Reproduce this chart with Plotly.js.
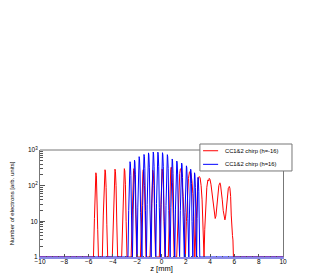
<!DOCTYPE html>
<html>
<head>
<meta charset="utf-8">
<script src="https://cdn.plot.ly/plotly-3.0.1.min.js"></script>
<style>
html,body{margin:0;padding:0;background:#fff;}
#chart{width:327px;height:273px;}
</style>
</head>
<body>
<div id="chart"></div>
<script>
// ---- data ----
const seriesNames = ["CC1&amp;2 chirp (h=-16)", "CC1&amp;2 chirp (h=16)"];
const seriesColors = ["#ff0000", "#0000ff"];

// red: CC1&2 chirp (h=-16)
const redZ = [
  -10, -5.62,
  -5.60, -5.52, -5.47, -5.43, -5.40, -5.36, -5.31, -5.25, -5.19,
  -4.87, -4.79, -4.73, -4.68, -4.65, -4.61, -4.56, -4.50, -4.43,
  -4.05, -3.97, -3.91, -3.86, -3.83, -3.79, -3.74, -3.68, -3.61,
  -3.28, -3.20, -3.14, -3.09, -3.06, -3.02, -2.97, -2.91, -2.84,
  -2.50, -2.42, -2.35, -2.30, -2.27, -2.23, -2.17, -2.11, -2.04,
  -1.73, -1.65, -1.58, -1.53, -1.50, -1.46, -1.40, -1.34, -1.27,
  -0.95, -0.87, -0.80, -0.75, -0.72, -0.68, -0.62, -0.56, -0.49,
  -0.18, -0.10, -0.03, 0.02, 0.05, 0.09, 0.15, 0.21, 0.28,
  0.56, 0.64, 0.71, 0.76, 0.80, 0.84, 0.90, 0.97, 1.04,
  1.25, 1.33, 1.42, 1.50, 1.55, 1.58, 1.63, 1.70, 1.78, 1.88, 1.97,
  2.05, 2.13, 2.22, 2.30, 2.35, 2.42, 2.50, 2.58, 2.66, 2.74,
  2.82, 2.90, 2.98, 3.05, 3.11, 3.18, 3.26, 3.34, 3.42, 3.50,
  3.56, 3.64, 3.73, 3.82, 3.88, 3.93, 3.99, 4.07, 4.16, 4.26, 4.36, 4.42,
  4.48, 4.56, 4.64, 4.72, 4.78, 4.81, 4.86, 4.93, 5.00, 5.08, 5.16, 5.22,
  5.28, 5.35, 5.42, 5.50, 5.55, 5.58, 5.63, 5.69, 5.74, 5.78, 5.84, 5.88, 5.92,
  10
];
const redN = [
  1, 1,
  1, 12, 90, 200, 230, 190, 70, 6, 1,
  1, 15, 120, 250, 280, 240, 90, 8, 1,
  1, 14, 110, 260, 290, 250, 100, 9, 1,
  1, 15, 120, 270, 300, 260, 110, 10, 1,
  1, 16, 130, 270, 300, 260, 110, 10, 1,
  1, 15, 120, 250, 280, 240, 100, 10, 1,
  1, 14, 110, 240, 270, 230, 100, 9, 1,
  1, 15, 120, 260, 290, 250, 110, 10, 1,
  1, 18, 140, 290, 330, 280, 120, 12, 1,
  1, 8, 60, 220, 290, 300, 270, 150, 50, 9, 1,
  10, 50, 160, 240, 250, 220, 140, 60, 15, 1,
  8, 40, 110, 170, 180, 165, 100, 40, 9, 1,
  6, 30, 90, 145, 135, 160, 150, 110, 60, 25, 13, 12,
  14, 28, 60, 100, 115, 120, 105, 75, 40, 20, 12, 11,
  14, 30, 55, 85, 90, 95, 85, 50, 15, 5, 4, 3, 1,
  1
];

// blue: CC1&2 chirp (h=16)
const blueZ = [
  -10,
  -2.76, -2.70, -2.65, -2.615, -2.59, -2.56, -2.52, -2.47, -2.42,
  -2.39, -2.33, -2.28, -2.245, -2.22, -2.19, -2.15, -2.10, -2.05,
  -2.01, -1.95, -1.90, -1.865, -1.84, -1.81, -1.77, -1.72, -1.67,
  -1.61, -1.55, -1.50, -1.465, -1.44, -1.41, -1.37, -1.32, -1.27,
  -1.24, -1.18, -1.13, -1.095, -1.07, -1.04, -1.00, -0.95, -0.90,
  -0.85, -0.79, -0.74, -0.705, -0.68, -0.65, -0.61, -0.56, -0.51,
  -0.47, -0.41, -0.36, -0.325, -0.30, -0.27, -0.23, -0.18, -0.13,
  -0.09, -0.03, 0.02, 0.055, 0.08, 0.11, 0.15, 0.20, 0.25,
  0.31, 0.37, 0.42, 0.455, 0.48, 0.51, 0.55, 0.60, 0.65,
  0.71, 0.77, 0.82, 0.855, 0.88, 0.91, 0.95, 1.00, 1.05,
  1.09, 1.15, 1.20, 1.235, 1.26, 1.29, 1.33, 1.38, 1.43,
  1.49, 1.55, 1.60, 1.635, 1.66, 1.69, 1.73, 1.78, 1.83,
  1.88, 1.94, 1.99, 2.025, 2.05, 2.08, 2.12, 2.17, 2.22,
  2.25, 2.30, 2.34, 2.375, 2.40, 2.43, 2.47, 2.51, 2.56,
  2.58, 2.63, 2.67, 2.70, 2.72, 2.75, 2.79, 2.83, 2.87,
  2.89, 2.93, 2.96, 2.98, 3.00, 3.03, 3.07, 3.11, 3.15,
  10
];
const blueN = [
  1,
  1, 20, 230, 420, 470, 410, 190, 15, 1,
  1, 22, 260, 470, 520, 460, 210, 16, 1,
  1, 25, 320, 590, 650, 570, 260, 18, 1,
  1, 28, 370, 680, 750, 660, 300, 20, 1,
  1, 30, 410, 750, 830, 730, 330, 22, 1,
  1, 32, 440, 790, 880, 770, 350, 24, 1,
  1, 32, 430, 780, 870, 760, 350, 24, 1,
  1, 30, 420, 760, 840, 740, 340, 22, 1,
  1, 28, 370, 670, 740, 650, 300, 20, 1,
  1, 24, 280, 500, 560, 490, 220, 17, 1,
  1, 22, 245, 440, 490, 430, 200, 15, 1,
  1, 20, 215, 390, 430, 380, 170, 14, 1,
  1, 18, 180, 320, 360, 320, 145, 12, 1,
  1, 16, 145, 260, 290, 255, 115, 10, 1,
  1, 14, 115, 205, 230, 200, 90, 9, 1,
  1, 12, 85, 150, 170, 150, 70, 8, 1,
  1
];

const xTickVals = [-10, -8, -6, -4, -2, 0, 2, 4, 6, 8, 10];
const yTickVals = [1, 10, 100, 1000];
const yTickText = ["1", "10", "10<sup>2</sup>", "10<sup>3</sup>"];
const xTitle = "z [mm]";
const yTitle = "Number of electrons [arb. units]";

// ---- figure ----
const FONT = "Liberation Sans, Arial, Helvetica, sans-serif";
const traces = [
  {x: redZ, y: redN, name: seriesNames[0], type: "scatter", mode: "lines",
   line: {color: seriesColors[0], width: 1}},
  {x: blueZ, y: blueN, name: seriesNames[1], type: "scatter", mode: "lines",
   line: {color: seriesColors[1], width: 1}}
];

// hand-made legend box (ROOT style: compact entries)
const legBox = {x0: 0.658, x1: 1.037, y0: 0.804, y1: 1.056};
const legRows = [0.993, 0.866];
const legLine = {x0: 0.671, x1: 0.733};
const legTextX = 0.752;

const shapes = [
  {type: "line", xref: "paper", yref: "paper", x0: 0, x1: 1, y0: 1, y1: 1,
   line: {color: "#777", width: 1}, layer: "above"},
  {type: "rect", xref: "paper", yref: "paper", x0: legBox.x0, x1: legBox.x1,
   y0: legBox.y0, y1: legBox.y1, fillcolor: "#ffffff",
   line: {color: "#777", width: 1}, layer: "above"}
];
const annotations = [];
seriesNames.forEach((nm, i) => {
  shapes.push({type: "line", xref: "paper", yref: "paper",
    x0: legLine.x0, x1: legLine.x1, y0: legRows[i], y1: legRows[i],
    line: {color: seriesColors[i], width: 1}, layer: "above"});
  annotations.push({xref: "paper", yref: "paper", x: legTextX, y: legRows[i],
    xanchor: "left", yanchor: "middle", showarrow: false, text: nm,
    font: {family: FONT, size: 5.8, color: "#000"}});
});

const layout = {
  width: 327, height: 273,
  margin: {l: 40, r: 44, t: 150, b: 16, pad: 0},
  paper_bgcolor: "#ffffff", plot_bgcolor: "#ffffff",
  font: {family: FONT, size: 6, color: "#000"},
  showlegend: false,
  xaxis: {
    range: [-10, 10], tickvals: xTickVals, ticks: "inside", ticklen: 3,
    tickcolor: "#555", showline: true, linecolor: "#8a8ae6", linewidth: 2,
    mirror: false, showgrid: false, zeroline: false,
    tickfont: {family: FONT, size: 6.5, color: "#000"},
    ticklabelstandoff: -3,
    minor: {ticks: "inside", ticklen: 1.5, dtick: 0.5, tickcolor: "#555", showgrid: false},
    title: {text: xTitle, font: {family: FONT, size: 7.5, color: "#000"}, standoff: 1},
    automargin: false
  },
  yaxis: {
    type: "log", range: [0, 3], tickvals: yTickVals, ticktext: yTickText,
    ticks: "inside", ticklen: 5, tickcolor: "#555",
    showline: true, linecolor: "#777", linewidth: 1, mirror: true,
    showgrid: false, zeroline: false,
    tickfont: {family: FONT, size: 6.5, color: "#000"},
    minor: {ticks: "inside", ticklen: 2.5, dtick: "D1", tickcolor: "#555", showgrid: false},
    title: {text: yTitle, font: {family: FONT, size: 6, color: "#000"}, standoff: 12},
    automargin: false
  },
  shapes: shapes,
  annotations: annotations
};

Plotly.newPlot("chart", traces, layout, {staticPlot: true, displayModeBar: false});
</script>
</body>
</html>
